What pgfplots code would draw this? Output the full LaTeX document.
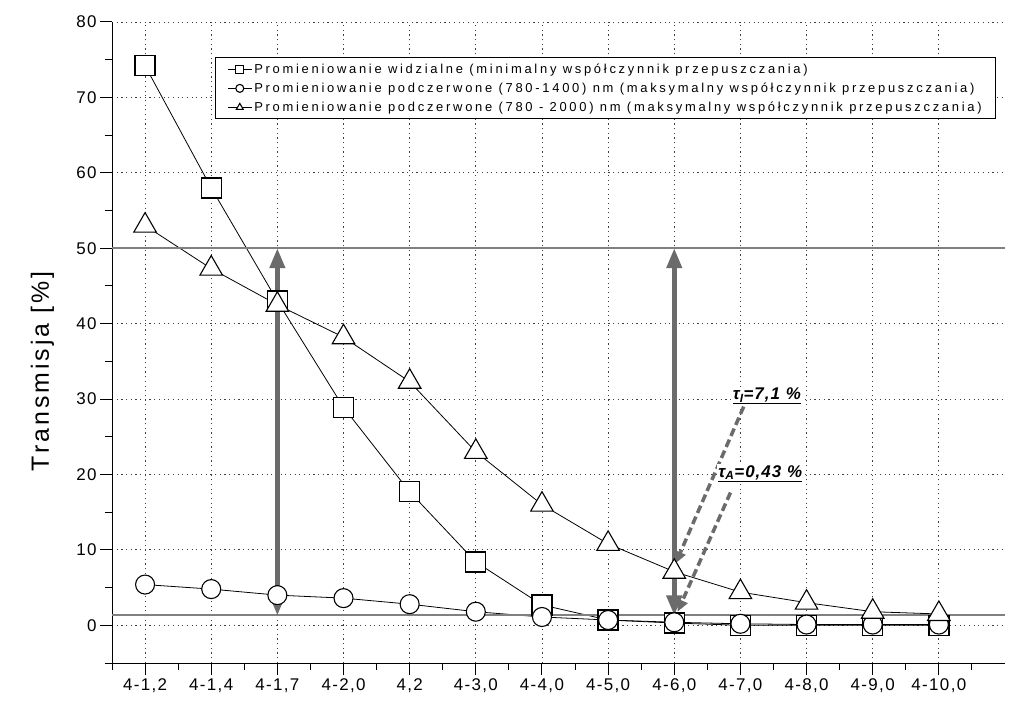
\documentclass[border=0pt]{standalone}
\usepackage{pgfplots}
\pgfplotsset{compat=1.18}
\usepackage{fontspec}
\setmainfont{Liberation Sans}
\newfontfamily\legfont{Liberation Sans}[LetterSpace=21]
\newfontfamily\tickfont{Liberation Sans}[LetterSpace=8]
\newfontfamily\labfont{Liberation Sans}[LetterSpace=12]
\newfontfamily\annfont{Liberation Sans}[LetterSpace=6]
\usetikzlibrary{arrows.meta}
\definecolor{arr}{gray}{0.42}
\definecolor{hl}{gray}{0.5}
\begin{document}
\begin{tikzpicture}
\useasboundingbox (-112bp,-44bp) rectangle (913bp,663bp);
\begin{axis}[
  at={(0,0)}, anchor=south west, scale only axis,
  width=893bp, height=641bp,
  xmin=-0.5, xmax=13, ymin=-5, ymax=80,
  axis x line*=bottom, axis y line*=left,
  axis line style={line width=1pt, -},
  xtick={0,...,12},
  xticklabels={{4-1,2},{4-1,4},{4-1,7},{4-2,0},{4,2},{4-3,0},{4-4,0},{4-5,0},{4-6,0},{4-7,0},{4-8,0},{4-9,0},{4-10,0}},
  ytick={0,10,...,80},
  minor ytick={-5,5,...,75},
  minor xtick={-0.5,0.5,...,12.5},
  tick align=outside,
  major tick length=12bp, minor tick length=7bp,
  tick style={black, line width=1pt},
  /pgf/number format/assume math mode=true,
  ticklabel style={font=\tickfont\fontsize{17}{19}\selectfont},
  grid=major,
  major grid style={black!75, line width=0.8pt, dash pattern=on 1.2pt off 3.5pt},
  ylabel={Transmisja [\%]},
  ylabel style={at={(axis description cs:-0.078,0.455)}, anchor=center, font=\labfont\fontsize{25}{27}\selectfont},
  legend style={at={(rel axis cs:0.115,0.945)}, anchor=north west, draw=black, line width=1.2pt,
     font=\legfont\fontsize{13}{15}\selectfont, row sep=4bp, inner xsep=12bp, inner ysep=4bp},
  legend cell align=left,
  legend image code/.code={\draw[mark repeat=2,mark phase=2,#1] plot coordinates {(0bp,0bp)(12bp,0bp)(24bp,0bp)};},
  legend image post style={mark size=4bp, line width=1pt},
]
\addplot[black, line width=0.8pt, mark=square*, mark size=10bp, mark options={fill=white, draw=black, line width=1.3pt, solid}]
 coordinates {(0,74.2)(1,58)(2,43)(3,28.9)(4,17.7)(5,8.4)(6,2.7)(7,0.7)(8,0.3)(9,0)(10,0)(11,0)(12,0)};
\addlegendentry{Promieniowanie widzialne (minimalny współczynnik przepuszczania)}
\addplot[black, line width=0.8pt, mark=*, mark size=9.5bp, mark options={fill=white, draw=black, line width=1.1pt, solid}]
 coordinates {(0,5.4)(1,4.8)(2,4.0)(3,3.6)(4,2.8)(5,1.8)(6,1.1)(7,0.7)(8,0.4)(9,0.2)(10,0.1)(11,0.1)(12,0.1)};
\addlegendentry{Promieniowanie podczerwone (780-1400) nm (maksymalny współczynnik przepuszczania)}
\addplot[black, line width=0.8pt, mark=triangle*, mark size=13bp, mark options={fill=white, draw=black, line width=1.1pt, solid}]
 coordinates {(0,53)(1,47.3)(2,42.5)(3,38.2)(4,32.3)(5,23)(6,16)(7,10.8)(8,7.1)(9,4.4)(10,3)(11,1.8)(12,1.5)};
\addlegendentry{Promieniowanie podczerwone (780 - 2000) nm (maksymalny współczynnik przepuszczania)}
\draw[hl, line width=2bp] (axis cs:-0.5,50) -- (axis cs:13,50);
\draw[hl, line width=2bp] (axis cs:-0.5,1.3) -- (axis cs:13,1.3);
\draw[arr, line width=4.5bp, {Triangle[length=20bp,width=15bp]}-{Triangle[length=20bp,width=15bp]}] (axis cs:2,1.3) -- (axis cs:2,50);
\draw[arr, line width=4.5bp, {Triangle[length=20bp,width=15bp]}-{Triangle[length=20bp,width=15bp]}] (axis cs:8,1.3) -- (axis cs:8,50);
\draw[arr, line width=3.5bp, dash pattern=on 8bp off 4bp, -{Triangle[length=12bp,width=11bp]}] (axis cs:9.05,29) -- (axis cs:8.02,8.2);
\draw[arr, line width=3.5bp, dash pattern=on 8bp off 4bp, -{Triangle[length=12bp,width=11bp]}] (axis cs:8.85,17.6) -- (axis cs:8.05,1.8);
\node[font=\annfont\bfseries\itshape\fontsize{17}{19}\selectfont, fill=white, inner sep=1pt] at (axis cs:9.4,30.4) {\underline{τ\textsubscript{I}=7,1 \%}};
\node[font=\annfont\bfseries\itshape\fontsize{17}{19}\selectfont, fill=white, inner sep=1pt] at (axis cs:9.3,20.1) {\underline{τ\textsubscript{A}=0,43 \%}};
\end{axis}
\end{tikzpicture}
\end{document}
